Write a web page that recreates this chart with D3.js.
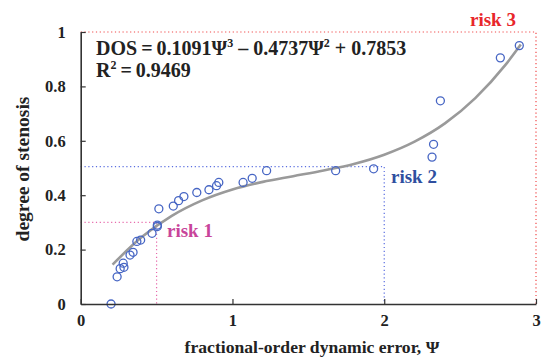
<!DOCTYPE html>
<html>
<head>
<meta charset="utf-8">
<script src="https://cdn.jsdelivr.net/npm/d3@7"></script>
<style>
  body { margin: 0; background: #fff; }
  text { font-family: "Liberation Serif", "Times New Roman", serif; font-weight: bold; }
</style>
</head>
<body>
<div id="chart"></div>
<script>
// measured points (psi, degree of stenosis)
var psi = [0.20, 0.24, 0.26, 0.28, 0.285, 0.325, 0.345, 0.37, 0.395, 0.47, 0.505, 0.505, 0.515,
           0.61, 0.645, 0.68, 0.765, 0.845, 0.895, 0.91, 1.07, 1.13, 1.225, 1.68, 1.93,
           2.315, 2.325, 2.37, 2.765, 2.89];
var dos = [0.00, 0.10, 0.13, 0.15, 0.135, 0.18, 0.19, 0.23, 0.235, 0.26, 0.285, 0.29, 0.35,
           0.36, 0.38, 0.395, 0.41, 0.42, 0.435, 0.447, 0.447, 0.462, 0.49, 0.49, 0.497,
           0.54, 0.587, 0.747, 0.905, 0.95];

// fitted curve
var fitX = [0.21, 0.4, 0.6, 0.8, 1.0, 1.2, 1.4, 1.6, 1.8, 2.0, 2.2, 2.4, 2.6, 2.8, 2.9];
var fitY = [0.145, 0.245, 0.324, 0.381, 0.421, 0.449, 0.47, 0.491, 0.515, 0.549, 0.597, 0.664, 0.757, 0.88, 0.954];

// risk thresholds
var riskNames = ["risk 1", "risk 2", "risk 3"];
var riskX = [0.5, 2, 3];
var riskY = [0.3, 0.505, 1];

var xTicks = [0, 1, 2, 3];
var yTicks = [0, 0.2, 0.4, 0.6, 0.8, 1];

var w = 543, h = 361;
var svg = d3.select("#chart").append("svg")
    .attr("width", w)
    .attr("height", h);

var xScale = d3.scaleLinear().domain([0, 3]).range([80.7, 536]);
var yScale = d3.scaleLinear().domain([0, 1]).range([304, 32]);

var lineColors = ["#e76aab", "#5a6ee0", "#f04a4a"];
var labelColors = ["#c8449a", "#2f4f9f", "#e8262a"];

// dotted risk guides
riskNames.forEach(function (name, i) {
    svg.append("path")
        .attr("d", "M" + xScale(0) + "," + yScale(riskY[i]) +
                   "H" + xScale(riskX[i]) + "V" + yScale(0))
        .style("fill", "none")
        .style("stroke", lineColors[i])
        .style("stroke-width", 1.2)
        .style("stroke-dasharray", "1.2,2.6");
});

// fit curve
var fit = fitX.map(function (x, i) { return [x, fitY[i]]; });
svg.append("path")
    .datum(fit)
    .attr("d", d3.line()
        .x(function (d) { return xScale(d[0]); })
        .y(function (d) { return yScale(d[1]); })
        .curve(d3.curveMonotoneX))
    .style("fill", "none")
    .style("stroke", "#9a9a9a")
    .style("stroke-width", 2.6);

// points
svg.selectAll("circle.pt")
    .data(psi)
    .enter().append("circle")
    .attr("class", "pt")
    .attr("cx", function (d) { return xScale(d); })
    .attr("cy", function (d, i) { return yScale(dos[i]); })
    .attr("r", 4)
    .style("fill", "none")
    .style("stroke", "#4766c4")
    .style("stroke-width", 1.3);

// axes
var xAxis = svg.append("g")
    .attr("transform", "translate(0," + yScale(0) + ")")
    .call(d3.axisBottom(xScale).tickValues(xTicks).tickFormat(d3.format("d"))
        .tickSizeInner(-5).tickSizeOuter(0).tickPadding(10));

var yAxis = svg.append("g")
    .attr("transform", "translate(" + xScale(0) + ",0)")
    .call(d3.axisLeft(yScale).tickValues(yTicks).tickFormat(function (d) { return d === 0 || d === 1 ? d : d.toFixed(1); })
        .tickSizeInner(-5).tickSizeOuter(0).tickPadding(15));

[xAxis, yAxis].forEach(function (g) {
    g.select(".domain").style("stroke", "#333").style("stroke-width", 1.6);
    g.selectAll(".tick line").style("stroke", "#333").style("stroke-width", 1.2);
    g.selectAll(".tick text")
        .style("font-family", "Liberation Serif, serif")
        .style("font-weight", "bold")
        .style("font-size", "16.5px")
        .style("fill", "#222");
});

// axis titles
svg.append("text")
    .attr("x", 312)
    .attr("y", 353)
    .attr("text-anchor", "middle")
    .style("font-size", "17.6px")
    .style("fill", "#222")
    .text("fractional-order dynamic error, \u03A8");

svg.append("text")
    .attr("transform", "translate(29,169) rotate(-90)")
    .attr("text-anchor", "middle")
    .style("font-size", "19.5px")
    .style("fill", "#222")
    .text("degree of stenosis");

// equation
var eq = svg.append("text")
    .attr("x", 96)
    .attr("y", 55)
    .style("font-size", "20px")
    .style("fill", "#222");
eq.append("tspan").text("DOS\u2009=\u20090.1091\u03A8");
eq.append("tspan").attr("dy", -8).style("font-size", "12px").text("3");
eq.append("tspan").attr("dy", 8).text(" \u2013 0.4737\u03A8");
eq.append("tspan").attr("dy", -8).style("font-size", "12px").text("2");
eq.append("tspan").attr("dy", 8).text(" + 0.7853");

var r2 = svg.append("text")
    .attr("x", 96)
    .attr("y", 77)
    .style("font-size", "20px")
    .style("fill", "#222");
r2.append("tspan").text("R");
r2.append("tspan").attr("dy", -8).style("font-size", "12px").text("2");
r2.append("tspan").attr("dy", 8).text("\u2009=\u20090.9469");

// risk labels
var labelPos = [[167, 237], [391, 183], [470, 26]];
riskNames.forEach(function (name, i) {
    svg.append("text")
        .attr("x", labelPos[i][0])
        .attr("y", labelPos[i][1])
        .style("font-size", "19px")
        .style("fill", labelColors[i])
        .text(name);
});
</script>
</body>
</html>
